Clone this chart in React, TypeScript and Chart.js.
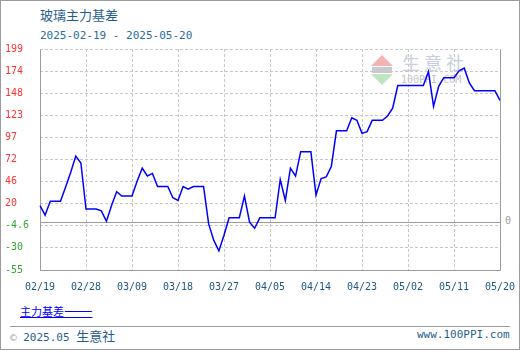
import React, { useEffect, useRef } from 'react';
import { Chart, registerables } from 'chart.js';

Chart.register(...registerables);

// ---- data ----
const startDate = [2025, 2, 19]; // 2025-02-19
const dayCount = 91;
const categories: string[] = (() => {
  const out: string[] = [];
  const d = new Date(Date.UTC(startDate[0], startDate[1] - 1, startDate[2]));
  for (let i = 0; i < dayCount; i++) {
    const m = d.getUTCMonth() + 1;
    const dd = d.getUTCDate();
    out.push(`${String(m).padStart(2, '0')}/${String(dd).padStart(2, '0')}`);
    d.setUTCDate(dd + 1);
  }
  return out;
})();

const basisValues = [
  19, 8, 24, 24, 24, 40, 57, 76, 68, 15,
  15, 15, 13, 1, 19, 35, 30, 30, 30, 47,
  62, 53, 56, 41, 41, 41, 28, 25, 41, 38,
  41, 41, 41, -2, -21, -33, -15, 5, 5, 5,
  30, 0, -7, 5, 5, 5, 5, 49, 25, 62,
  53, 81, 81, 81, 31, 50, 52, 64, 105, 105,
  105, 120, 117, 102, 104, 117, 117, 117, 122, 131,
  157, 157, 157, 157, 157, 157, 173, 133, 156, 166,
  166, 166, 174, 177, 160, 151, 151, 151, 151, 151,
  140,
];

const yTickValues = [-55, -29.6, -4.2, 21.2, 46.6, 72, 97.4, 122.8, 148.2, 173.6, 199];
const yTickLabels = ['-55', '-30', '-4.6', '20', '46', '72', '97', '123', '148', '174', '199'];
const xLabelStep = 9;

const titleText = '玻璃主力基差';
const rangeText = '2025-02-19 - 2025-05-20';
const seriesName = '主力基差';

const MONO = '"DejaVu Sans Mono", "Liberation Mono", monospace';
const CJK = '"Noto Sans CJK SC", "Noto Sans", sans-serif';

const framePlugin = {
  id: 'frame',
  beforeDatasetsDraw(chart: any) {
    const { ctx, chartArea: a, scales } = chart;
    ctx.save();
    ctx.setLineDash([]);
    ctx.lineWidth = 1;
    ctx.strokeStyle = '#9c9c9c';
    const L = Math.round(a.left) + 0.5;
    const R = Math.round(a.right) + 0.5;
    const B = Math.round(a.bottom) + 0.5;
    const T = Math.round(a.top) + 0.5;
    ctx.beginPath();
    ctx.moveTo(L, T);
    ctx.lineTo(L, B);
    ctx.lineTo(R, B);
    ctx.lineTo(R, T);
    ctx.stroke();
    // zero line
    const z = Math.round(scales.y.getPixelForValue(0)) + 0.5;
    ctx.beginPath();
    ctx.moveTo(L, z);
    ctx.lineTo(R, z);
    ctx.stroke();
    // outer border
    ctx.strokeRect(0.5, 0.5, 519, 349);
    // footer separator
    ctx.beginPath();
    ctx.moveTo(10, 326.5);
    ctx.lineTo(510, 326.5);
    ctx.stroke();
    // watermark logo
    ctx.fillStyle = '#f4b4b4';
    ctx.beginPath();
    ctx.moveTo(382, 55);
    ctx.lineTo(393, 66);
    ctx.lineTo(371, 66);
    ctx.closePath();
    ctx.fill();
    ctx.fillStyle = '#bfe6c0';
    ctx.beginPath();
    ctx.moveTo(371, 74);
    ctx.lineTo(393, 74);
    ctx.lineTo(382, 85);
    ctx.closePath();
    ctx.fill();
    ctx.fillStyle = '#c9c9d2';
    ctx.fillRect(372, 67, 20, 6);
    ctx.restore();
  },
};

export default function App() {
  const ref = useRef<HTMLCanvasElement | null>(null);

  useEffect(() => {
    if (!ref.current) return;
    const chart = new Chart(ref.current, {
      type: 'line',
      data: {
        labels: categories,
        datasets: [
          {
            label: seriesName,
            data: basisValues,
            borderColor: '#0000ff',
            borderWidth: 1.5,
            pointRadius: 0,
            tension: 0,
            fill: false,
          },
        ],
      },
      options: {
        animation: false,
        responsive: false,
        maintainAspectRatio: false,
        layout: { padding: { left: 5, top: 49, right: 20, bottom: 50 } },
        plugins: {
          legend: { display: false },
          tooltip: { enabled: false },
          title: { display: false },
        },
        scales: {
          x: {
            type: 'category',
            offset: false,
            grid: {
              color: (c: any) => (c.index % xLabelStep === 0 ? '#c8c8c8' : 'rgba(0,0,0,0)'),
              lineWidth: 1,
              drawTicks: true,
              tickLength: 11,
              tickColor: 'rgba(0,0,0,0)',
            },
            border: { display: false, dash: [3, 2] },
            ticks: {
              autoSkip: false,
              maxRotation: 0,
              minRotation: 0,
              padding: 0,
              color: '#1c5a80',
              font: { family: MONO, size: 10 },
              callback: (_v: any, i: number) => (i % xLabelStep === 0 ? categories[i] : ''),
            },
            afterFit: (s: any) => {
              s.height = 30;
            },
          },
          y: {
            min: -55,
            max: 199,
            afterBuildTicks: (s: any) => {
              s.ticks = yTickValues.map((v) => ({ value: v }));
            },
            grid: { color: '#c8c8c8', lineWidth: 1, drawTicks: false },
            border: { display: false, dash: [3, 2] },
            ticks: {
              crossAlign: 'far',
              padding: 0,
              color: (c: any) => (c.tick && c.tick.value < 0 ? '#2fa52f' : '#ff3333'),
              font: { family: MONO, size: 10 },
              callback: (_v: any, i: number) => yTickLabels[i],
            },
            afterFit: (s: any) => {
              s.width = 35;
            },
          },
        },
      } as any,
      plugins: [framePlugin],
    });
    return () => chart.destroy();
  }, []);

  const abs: React.CSSProperties = { position: 'absolute', whiteSpace: 'nowrap', margin: 0 };

  return (
    <div style={{ position: 'absolute', left: 0, top: 0, width: 520, height: 350, background: '#fff', overflow: 'hidden' }}>
      <div style={{ ...abs, left: 40, top: 8, fontFamily: CJK, fontSize: 13, lineHeight: '13px', color: '#1f5f8f' }}>{titleText}</div>
      <div style={{ ...abs, left: 40, top: 30, fontFamily: MONO, fontSize: 11, lineHeight: '11px', color: '#2a6e9e' }}>{rangeText}</div>
      {/* watermark */}
      <div style={{ ...abs, left: 402, top: 53, fontFamily: CJK, fontSize: 18, lineHeight: '18px', letterSpacing: 4, color: '#c8cfe0' }}>生意社</div>
      <div style={{ ...abs, left: 401, top: 75, fontFamily: MONO, fontSize: 10, lineHeight: '10px', color: '#c4c4c4' }}>100PPI.COM</div>
      <div style={{ ...abs, left: 505, top: 216, fontFamily: MONO, fontSize: 10, lineHeight: '10px', color: '#a0a0a0' }}>0</div>
      {/* legend */}
      <div style={{ ...abs, left: 20, top: 302, fontFamily: CJK, fontSize: 11, lineHeight: '14px', color: '#0000ff', textDecoration: 'underline' }}>
        {seriesName}
        <span style={{ fontSize: 17, lineHeight: '14px' }}>——</span>
      </div>
      {/* footer */}
      <div style={{ ...abs, left: 10, top: 328.5, fontFamily: MONO, fontSize: 11, lineHeight: '13px', color: '#1f5f8f' }}>
        <span style={{ color: '#9ab' }}>©</span> 2025.05 <span style={{ fontFamily: CJK, fontSize: 13 }}>生意社</span>
      </div>
      <div style={{ ...abs, left: 417, top: 329, fontFamily: MONO, fontSize: 11, lineHeight: '11px', color: '#1f5f8f' }}>www.100PPI.com</div>
      <canvas ref={ref} width={520} height={350} style={{ position: 'absolute', left: 0, top: 0, width: 520, height: 350 }} />
    </div>
  );
}
